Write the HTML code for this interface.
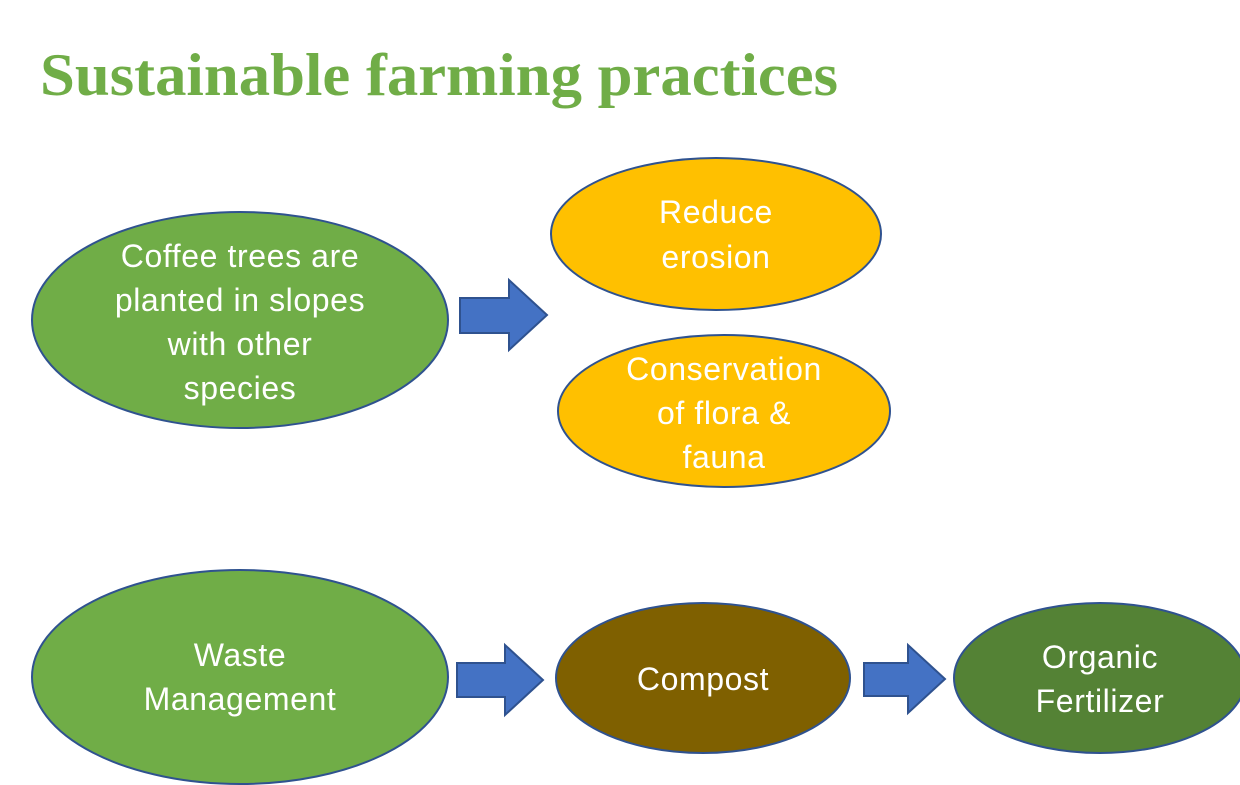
<!DOCTYPE html>
<html><head><meta charset="utf-8"><style>
html,body{margin:0;padding:0;background:#fff;}
svg{display:block;}
.t{font-family:"Liberation Sans",sans-serif;font-size:32px;letter-spacing:0.6px;fill:#fff;text-anchor:middle;}
</style></head><body>
<svg width="1240" height="785" viewBox="0 0 1240 785">
<text x="40" y="95" font-family="Liberation Serif,serif" font-weight="bold" font-size="60" fill="#70AD47" textLength="798" lengthAdjust="spacingAndGlyphs">Sustainable farming practices</text>
<g stroke="#2F528F" stroke-width="2">
<ellipse cx="240" cy="320" rx="208" ry="108" fill="#70AD47"/>
<ellipse cx="716" cy="234" rx="165" ry="76" fill="#FFC000"/>
<ellipse cx="724" cy="411" rx="166" ry="76" fill="#FFC000"/>
<ellipse cx="240" cy="677" rx="208" ry="107" fill="#70AD47"/>
<ellipse cx="703" cy="678" rx="147" ry="75" fill="#7F6000"/>
<ellipse cx="1100" cy="678" rx="146" ry="75" fill="#548235"/>
<path d="M460 298H509V280L547 315L509 350V333H460Z" fill="#4472C4"/>
<path d="M457 663H505V645L543 680L505 715V697H457Z" fill="#4472C4"/>
<path d="M864 663H908V645L945 679L908 713V696H864Z" fill="#4472C4"/>
</g>
<text class="t" x="240" y="267">Coffee trees are</text>
<text class="t" x="240" y="311">planted in slopes</text>
<text class="t" x="240" y="355">with other</text>
<text class="t" x="240" y="399">species</text>
<text class="t" x="716" y="223">Reduce</text>
<text class="t" x="716" y="268">erosion</text>
<text class="t" x="724" y="380">Conservation</text>
<text class="t" x="724" y="424">of flora &amp;</text>
<text class="t" x="724" y="468">fauna</text>
<text class="t" x="240" y="666">Waste</text>
<text class="t" x="240" y="710">Management</text>
<text class="t" x="703" y="690">Compost</text>
<text class="t" x="1100" y="668">Organic</text>
<text class="t" x="1100" y="712">Fertilizer</text>
</svg>
</body></html>
